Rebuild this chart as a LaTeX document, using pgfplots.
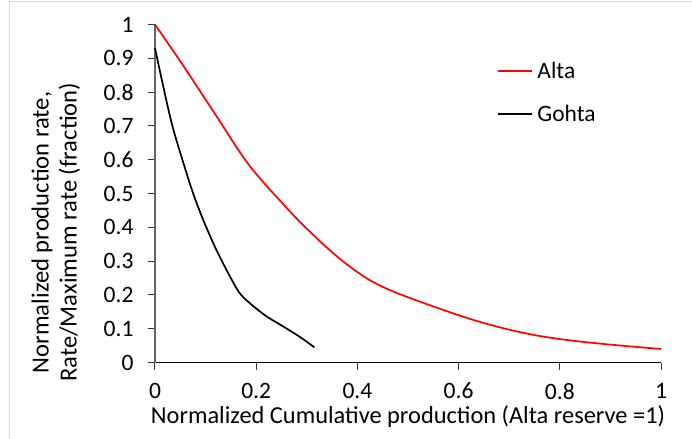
\documentclass[border=0pt]{standalone}
\usepackage{fontspec}
\setmainfont{Carlito}
\usepackage{pgfplots}
\pgfplotsset{compat=1.18}
\begin{document}
\begin{tikzpicture}
\useasboundingbox (-155bp,-76bp) rectangle (537bp,362.5bp);
\draw[draw={rgb,255:red,217;green,217;blue,217}, line width=1bp] (-145bp,-76bp) -- (-145bp,361bp) -- (537bp,361bp);
\begin{axis}[
  at={(0,0)}, anchor=south west,
  scale only axis, width=506bp, height=338bp,
  xmin=0, xmax=1, ymin=0, ymax=1,
  axis x line=bottom, axis y line=left,
  axis line style={-, line width=1.2bp},
  x axis line style={draw=black},
  y axis line style={draw=black!60},
  xtick={0,0.2,0.4,0.6,0.8,1},
  xticklabels={0,0.2,0.4,0.6,0.8,1},
  ytick={0,0.1,0.2,0.3,0.4,0.5,0.6,0.7,0.8,0.9,1},
  yticklabels={0,0.1,0.2,0.3,0.4,0.5,0.6,0.7,0.8,0.9,1},
  tick align=outside,
  major tick length=7bp,
  tick style={line width=1bp, draw=black!80},
  /pgf/number format/assume math mode=true,
  ticklabel style={font=\fontsize{23.5bp}{27bp}\selectfont},
  xticklabel style={yshift=-10bp},
  yticklabel style={xshift=-11bp},
  xlabel={Normalized Cumulative production (Alta reserve =1)},
  xlabel style={at={(axis description cs:0.5,-0.16)}, anchor=center, font=\fontsize{24.4bp}{27bp}\selectfont},
  ylabel={Normalized production rate,\\Rate/Maximum rate (fraction)},
  ylabel style={at={(axis description cs:-0.196,0.385)}, anchor=center, align=center, font=\fontsize{24.6bp}{28bp}\selectfont},
  legend style={at={(axis description cs:0.675,0.895)}, anchor=north west, draw=none, fill=none,
    font=\fontsize{23.5bp}{27bp}\selectfont, row sep=21bp, inner sep=0pt,
    nodes={inner xsep=5bp, inner ysep=2bp}},
  legend cell align=left,
  legend image code/.code={\draw[#1] (0bp,0bp) -- (34bp,0bp);},
  clip=false,
]
\addplot[red, line width=1.7bp, smooth, tension=0.55] coordinates {
(0,1) (0.056,0.878) (0.121,0.73) (0.187,0.582) (0.266,0.448) (0.305,0.389)
(0.344,0.334) (0.384,0.285) (0.423,0.245) (0.463,0.215) (0.502,0.192)
(0.561,0.160) (0.627,0.127) (0.692,0.100) (0.758,0.079) (0.823,0.065)
(0.889,0.0545) (0.955,0.0457) (1.0,0.040)
};
\addlegendentry{Alta}
\addplot[black, line width=1.7bp, smooth, tension=0.55] coordinates {
(0,0.93) (0.031,0.72) (0.056,0.591) (0.075,0.502)
(0.095,0.423) (0.121,0.334) (0.148,0.255) (0.167,0.206) (0.187,0.176)
(0.22,0.137) (0.253,0.107) (0.285,0.077) (0.315,0.045)
};
\addlegendentry{Gohta}
\end{axis}
\end{tikzpicture}
\end{document}
